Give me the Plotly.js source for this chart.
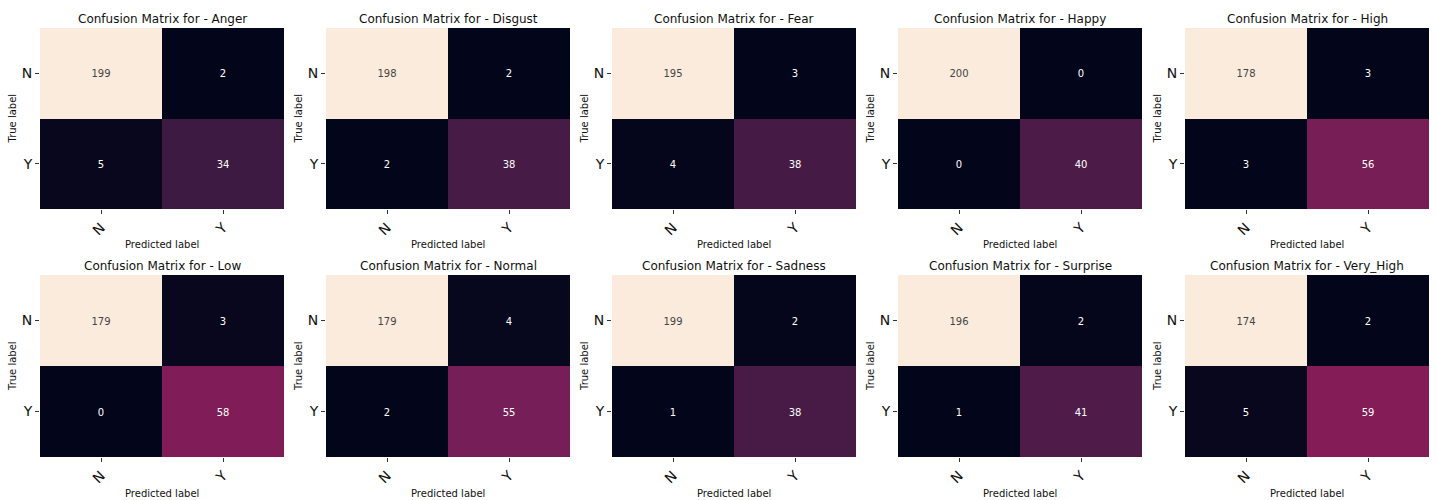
<!DOCTYPE html>
<html>
<head>
<meta charset="utf-8">
<script src="https://cdn.plot.ly/plotly-3.0.1.min.js"></script>
<style>
html,body{margin:0;padding:0;background:#fff;}
#chart{width:1437px;height:500px;}
</style>
</head>
<body>
<div id="chart"></div>
<script>
// ---- data ----
const categories = ['N', 'Y'];
const emotions = ['Anger', 'Disgust', 'Fear', 'Happy', 'High', 'Low', 'Normal', 'Sadness', 'Surprise', 'Very_High'];
const anger     = [[199, 2], [5, 34]];
const disgust   = [[198, 2], [2, 38]];
const fear      = [[195, 3], [4, 38]];
const happy     = [[200, 0], [0, 40]];
const high      = [[178, 3], [3, 56]];
const low       = [[179, 3], [0, 58]];
const normal    = [[179, 4], [2, 55]];
const sadness   = [[199, 2], [1, 38]];
const surprise  = [[196, 2], [1, 41]];
const veryHigh  = [[174, 2], [5, 59]];
const matrices = [anger, disgust, fear, happy, high, low, normal, sadness, surprise, veryHigh];

// ---- style ----
const rocket = [
  [0.0, '#03051a'],
  [1/7, '#35193e'],
  [2/7, '#701f57'],
  [3/7, '#ad1759'],
  [4/7, '#e13342'],
  [5/7, '#f37651'],
  [6/7, '#f6b48f'],
  [1.0, '#faebdd']
];
const W = 1437, H = 500;
const colLefts = [40, 326, 612, 898, 1185];
const panelW = 244;
const rows = [[28, 209], [275, 457]];
const FONT = 'DejaVu Sans, sans-serif';

const traces = [];
const layout = {
  width: W, height: H,
  margin: {l: 0, r: 0, t: 0, b: 0},
  paper_bgcolor: '#ffffff',
  plot_bgcolor: '#ffffff',
  font: {family: FONT, color: '#262626'},
  showlegend: false,
  annotations: []
};

matrices.forEach((m, i) => {
  const n = i + 1;
  const r = Math.floor(i / 5), c = i % 5;
  const xs = n === 1 ? 'x' : 'x' + n;
  const ys = n === 1 ? 'y' : 'y' + n;
  traces.push({
    type: 'heatmap',
    x: categories,
    y: categories,
    z: m,
    xaxis: xs, yaxis: ys,
    colorscale: rocket,
    showscale: false,
    texttemplate: '%{z}',
    textfont: {family: FONT, size: 10},
    hoverinfo: 'skip'
  });
  const xd = [colLefts[c] / W, (colLefts[c] + panelW) / W];
  const yd = [1 - rows[r][1] / H, 1 - rows[r][0] / H];
  const axCommon = {
    type: 'category',
    showgrid: false, zeroline: false, showline: false,
    ticks: 'outside', ticklen: 4, tickwidth: 1, tickcolor: '#333',
    tickfont: {family: FONT, size: 14, color: '#111'},
    fixedrange: true
  };
  layout['xaxis' + (n === 1 ? '' : n)] = Object.assign({}, axCommon, {
    domain: xd, anchor: ys, tickangle: -45
  });
  layout['yaxis' + (n === 1 ? '' : n)] = Object.assign({}, axCommon, {
    domain: yd, anchor: xs, autorange: 'reversed'
  });
  layout.annotations.push({
    text: 'Confusion Matrix for - ' + emotions[i],
    xref: xs + ' domain', yref: ys + ' domain',
    x: 0.5, y: 1, xanchor: 'center', yanchor: 'middle', yshift: 9,
    showarrow: false, font: {family: FONT, size: 12, color: '#111'}
  });
  layout.annotations.push({
    text: 'True label',
    xref: xs + ' domain', yref: ys + ' domain',
    x: 0, y: 0.5, xanchor: 'center', yanchor: 'middle', xshift: -28,
    textangle: -90,
    showarrow: false, font: {family: FONT, size: 10, color: '#111'}
  });
  layout.annotations.push({
    text: 'Predicted label',
    xref: xs + ' domain', yref: ys + ' domain',
    x: 0.5, y: 0, xanchor: 'center', yanchor: 'middle', yshift: -36,
    showarrow: false, font: {family: FONT, size: 10, color: '#111'}
  });
});

Plotly.newPlot('chart', traces, layout, {displayModeBar: false, staticPlot: true});
</script>
</body>
</html>
